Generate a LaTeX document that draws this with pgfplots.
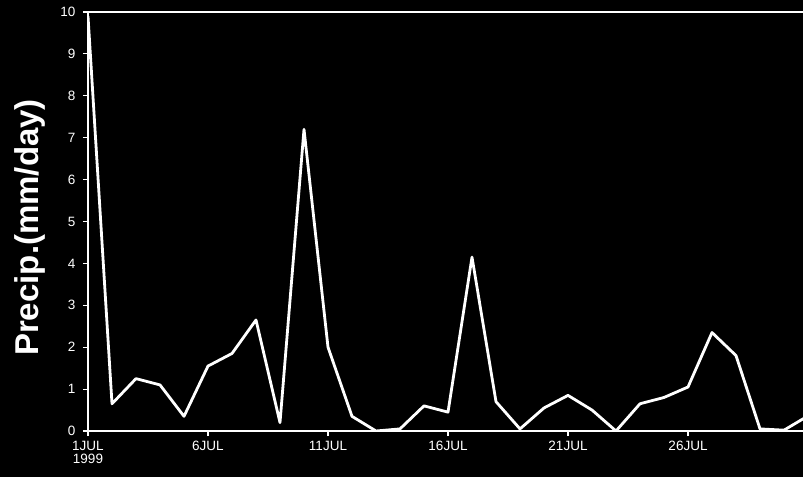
\documentclass[border=0pt]{standalone}
\usepackage{pgfplots}
\pgfplotsset{compat=1.18}
\usepackage{fontspec}
\setmainfont{Liberation Sans}
\begin{document}
\begin{tikzpicture}
\useasboundingbox (-88pt,-46pt) rectangle (715pt,431pt);
\fill[black] (-88pt,-46pt) rectangle (715pt,431pt);
\clip (-88pt,-46pt) rectangle (715pt,431pt);
\begin{axis}[
  at={(0,0)}, anchor=south west,
  scale only axis, width=720pt, height=419pt,
  xmin=1, xmax=31, ymin=0, ymax=10,
  axis line style={white, line width=2.8pt},
  tick style={white, line width=1.2pt},
  tick align=outside, major tick length=5pt,
  xtick pos=bottom, ytick pos=left,
  ytick={0,1,2,3,4,5,6,7,8,9,10},
  xtick={1,6,11,16,21,26},
  xticklabels={{1JUL\\[-1pt]1999},6JUL,11JUL,16JUL,21JUL,26JUL},
  xticklabel style={align=center, text=white, font=\fontsize{13.5}{14}\selectfont, inner sep=1pt, yshift=-4pt},
  yticklabel style={text=white, font=\fontsize{13.5}{14}\selectfont, xshift=-4pt},
  /pgf/number format/assume math mode=true,
  ylabel={Precip.(mm/day)},
  ylabel style={at={(axis description cs:0,0.5)}, yshift=58pt, xshift=-6pt, anchor=center, text=white, font=\bfseries\fontsize{33}{35}\selectfont},
]
\addplot[white, line width=2.8pt, no markers, line join=round] coordinates {
(1,9.9) (2,0.65) (3,1.25) (4,1.1) (5,0.35) (6,1.55) (7,1.85) (8,2.65) (9,0.2) (10,7.2)
(11,2.0) (12,0.35) (13,0.0) (14,0.05) (15,0.6) (16,0.45) (17,4.15) (18,0.7) (19,0.05) (20,0.55)
(21,0.85) (22,0.5) (23,0.0) (24,0.65) (25,0.8) (26,1.05) (27,2.35) (28,1.8) (29,0.05) (30,0.02) (31,0.36)
};
\end{axis}
\end{tikzpicture}
\end{document}
